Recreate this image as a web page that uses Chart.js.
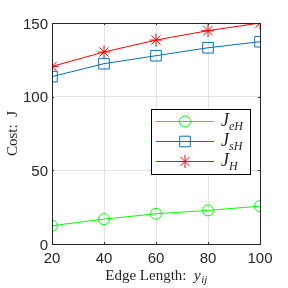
<!DOCTYPE html>
<html>
<head>
<meta charset="utf-8">
<script src="https://cdn.jsdelivr.net/npm/chart.js@4"></script>
<style>
  html, body { margin: 0; padding: 0; background: #fff; }
  #wrap { width: 288px; height: 288px; }
</style>
</head>
<body>
<div id="wrap"><canvas id="chart" width="288" height="288"></canvas></div>
<script>
// values
const edgeLengths = [20, 40, 60, 80, 100];
const costEH = [12.4, 16.9, 20.5, 22.8, 25.7];
const costSH = [113.6, 122.4, 127.8, 133.2, 137.3];
const costH = [120.5, 130.3, 138.4, 144.8, 150];
const xTicks = [20, 40, 60, 80, 100];
const yTicks = [0, 50, 100, 150];
const seriesSubs = ['eH', 'sH', 'H'];

const axisColor = '#262626';
const tickFont = { family: 'Liberation Sans, Arial, sans-serif', size: 15 };
const serif = 'Liberation Serif, Times New Roman, serif';

function points(values) {
  return edgeLengths.map((x, i) => ({ x, y: values[i] }));
}

function series(values, color, style, radius) {
  return {
    data: points(values),
    borderColor: color,
    borderWidth: 1,
    pointStyle: style,
    pointRadius: radius,
    pointBorderColor: color,
    pointBackgroundColor: 'rgba(0,0,0,0)',
    pointBorderWidth: 1,
    tension: 0
  };
}

const datasets = [
  series(costEH, '#00ff00', 'circle', 5.5),
  series(costSH, '#0072bd', 'rect', 7.5),
  series(costH, '#ff0000', 'star', 6.5)
];

// "J" with an italic subscript
function drawMathJ(ctx, x, y, sub) {
  ctx.font = 'italic 18px ' + serif;
  ctx.textAlign = 'left';
  ctx.textBaseline = 'middle';
  ctx.fillText('J', x, y);
  const w = ctx.measureText('J').width;
  ctx.font = 'italic 12px ' + serif;
  ctx.fillText(sub, x + w, y + 5);
}

const framePlugin = {
  id: 'frame',
  afterDraw(chart) {
    const { ctx, chartArea: a } = chart;
    const xs = chart.scales.x;
    const ys = chart.scales.y;
    ctx.save();
    ctx.strokeStyle = axisColor;
    ctx.lineWidth = 1;
    ctx.strokeRect(Math.round(a.left) + 0.5, Math.round(a.top) + 0.5,
      Math.round(a.right - a.left), Math.round(a.bottom - a.top));

    // small inward tick marks
    ctx.beginPath();
    xTicks.forEach((v) => {
      const px = Math.round(xs.getPixelForValue(v)) + 0.5;
      ctx.moveTo(px, a.bottom); ctx.lineTo(px, a.bottom - 2);
      ctx.moveTo(px, a.top); ctx.lineTo(px, a.top + 2);
    });
    yTicks.forEach((v) => {
      const py = Math.round(ys.getPixelForValue(v)) + 0.5;
      ctx.moveTo(a.left, py); ctx.lineTo(a.left + 2, py);
      ctx.moveTo(a.right, py); ctx.lineTo(a.right - 2, py);
    });
    ctx.stroke();

    // axis titles
    ctx.fillStyle = axisColor;
    ctx.textBaseline = 'middle';
    const cx = (a.left + a.right) / 2;
    ctx.font = '15px ' + serif;
    const lead = 'Edge Length:  ';
    const leadW = ctx.measureText(lead).width;
    ctx.font = 'italic 15px ' + serif;
    const yW = ctx.measureText('y').width;
    ctx.font = 'italic 11px ' + serif;
    const subW = ctx.measureText('ij').width;
    const tx = cx - (leadW + yW + subW) / 2;
    ctx.textAlign = 'left';
    ctx.font = '15px ' + serif;
    ctx.fillText(lead, tx, 276);
    ctx.font = 'italic 15px ' + serif;
    ctx.fillText('y', tx + leadW, 276);
    ctx.font = 'italic 11px ' + serif;
    ctx.fillText('ij', tx + leadW + yW + 0.5, 280);

    ctx.save();
    ctx.translate(13, (a.top + a.bottom) / 2);
    ctx.rotate(-Math.PI / 2);
    ctx.textAlign = 'center';
    ctx.font = '15px ' + serif;
    ctx.fillText('Cost:  J', 0, 0);
    ctx.restore();

    // legend box
    const lx = 151, ly = 109, lw = 99, lh = 65;
    ctx.fillStyle = '#ffffff';
    ctx.fillRect(lx, ly, lw, lh);
    ctx.strokeStyle = '#000000';
    ctx.strokeRect(lx + 0.5, ly + 0.5, lw, lh);
    const rows = [121.5, 141.5, 161.5];
    chart.data.datasets.forEach((ds, i) => {
      const ry = rows[i];
      ctx.strokeStyle = ds.borderColor;
      ctx.fillStyle = 'rgba(0,0,0,0)';
      ctx.lineWidth = 1;
      ctx.beginPath();
      ctx.moveTo(156, ry); ctx.lineTo(214, ry);
      ctx.stroke();
      Chart.helpers.drawPoint(ctx, {
        pointStyle: ds.pointStyle, radius: ds.pointRadius, borderWidth: 1, rotation: 0
      }, 185, ry);
      ctx.fillStyle = axisColor;
      drawMathJ(ctx, 221, ry, seriesSubs[i]);
    });
    ctx.restore();
  }
};

new Chart(document.getElementById('chart'), {
  type: 'line',
  data: { datasets },
  options: {
    responsive: false,
    animation: false,
    plugins: { legend: { display: false }, tooltip: { enabled: false } },
    layout: { padding: { left: 0, right: 28, top: 23, bottom: 0 } },
    scales: {
      x: {
        type: 'linear',
        min: 20,
        max: 100,
        afterBuildTicks: (s) => { s.ticks = xTicks.map((v) => ({ value: v })); },
        afterFit: (s) => { s.height = 44; s.paddingLeft = 0; s.paddingRight = 0; },
        ticks: { color: axisColor, font: tickFont, padding: 6, maxRotation: 0 },
        grid: { color: '#e3e3e3', drawTicks: false },
        border: { display: false }
      },
      y: {
        min: 0,
        max: 150,
        afterBuildTicks: (s) => { s.ticks = yTicks.map((v) => ({ value: v })); },
        afterFit: (s) => { s.width = 52; s.paddingTop = 0; s.paddingBottom = 0; },
        ticks: { color: axisColor, font: tickFont, padding: 4, labelOffset: 1.5 },
        grid: { color: '#e3e3e3', drawTicks: false },
        border: { display: false }
      }
    }
  },
  plugins: [framePlugin]
});
</script>
</body>
</html>
